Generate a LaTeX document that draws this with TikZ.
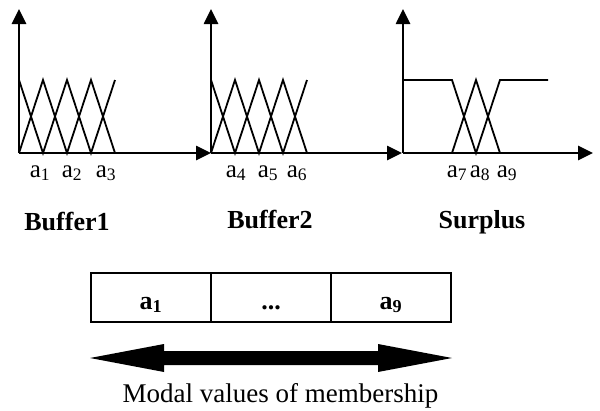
\documentclass[tikz,border=0pt]{standalone}
\usepackage{fontspec}
\setmainfont{Liberation Serif}
\usetikzlibrary{arrows.meta}
\tikzset{
  axis/.style={line width=2.6pt,-{Triangle[length=15pt,width=14pt]}},
  mf/.style={line width=1.8pt,line join=miter},
  tick/.style={anchor=base,inner sep=0pt,font=\fontsize{25}{30}\selectfont},
  ttl/.style={anchor=base,inner sep=0pt,font=\fontsize{26}{31}\selectfont\bfseries},
  cell/.style={draw,line width=1.4pt,minimum width=120pt,minimum height=49pt,inner sep=0pt},
}
\begin{document}
\begin{tikzpicture}[x=1pt,y=-1pt]
\useasboundingbox (0,0) rectangle (600,410);
% panel 1
\coordinate (o1) at (19,153);
\coordinate (y1) at (19,9);
\coordinate (x1) at (211,153);
\draw[mf] (19,80) -- (43,153) -- (67,80) -- (91,153) -- (115,80);
\draw[mf] (19,153) -- (43,80) -- (67,153) -- (91,80) -- (115,153);
\draw[axis] (o1) -- (y1);
\draw[axis] (o1) -- (x1);
\node[tick] (t1) at (40,177) {a\textsubscript{1}};
\node[tick] (t2) at (72,177) {a\textsubscript{2}};
\node[tick] (t3) at (106,177) {a\textsubscript{3}};
\node[ttl] (b1) at (67,230) {Buffer1};
% panel 2
\coordinate (o2) at (211,153);
\coordinate (y2) at (211,9);
\coordinate (x2) at (402,153);
\draw[mf] (211,80) -- (235,153) -- (259,80) -- (283,153) -- (307,80);
\draw[mf] (211,153) -- (235,80) -- (259,153) -- (283,80) -- (307,153);
\draw[axis] (o2) -- (y2);
\draw[axis] (o2) -- (x2);
\node[tick] (t4) at (236,177) {a\textsubscript{4}};
\node[tick] (t5) at (268,177) {a\textsubscript{5}};
\node[tick] (t6) at (297,177) {a\textsubscript{6}};
\node[ttl] (b2) at (270,228) {Buffer2};
% panel 3
\coordinate (o3) at (403,153);
\coordinate (y3) at (403,9);
\coordinate (x3) at (593,153);
\draw[mf] (403,80) -- (452,80) -- (476,153) -- (500,80) -- (548,80);
\draw[mf] (452,153) -- (476,80) -- (500,153);
\draw[axis] (o3) -- (y3);
\draw[axis] (o3) -- (x3);
\node[tick] (t7) at (457,177) {a\textsubscript{7}};
\node[tick] (t8) at (480,177) {a\textsubscript{8}};
\node[tick] (t9) at (507,177) {a\textsubscript{9}};
\node[ttl] (b3) at (482,228) {Surplus};
% box
\node[cell] (c1) at (151,297.5) {};
\node[cell] (c2) at (271,297.5) {};
\node[cell] (c3) at (391,297.5) {};
\node[ttl] (l1) at (151,309) {a\textsubscript{1}};
\node[ttl] (l2) at (271,309) {...};
\node[ttl] (l3) at (391,309) {a\textsubscript{9}};
% double arrow
\coordinate (la) at (90,358);
\coordinate (ra) at (452,358);
\fill (la) -- (164,344) -- (164,351) -- (378,351) -- (378,344) -- (ra) -- (378,372) -- (378,365) -- (164,365) -- (164,372) -- cycle;
\node[anchor=base,inner sep=0pt,font=\fontsize{27}{32}\selectfont] (cap) at (280.5,402) {Modal values of membership};
\end{tikzpicture}
\end{document}
